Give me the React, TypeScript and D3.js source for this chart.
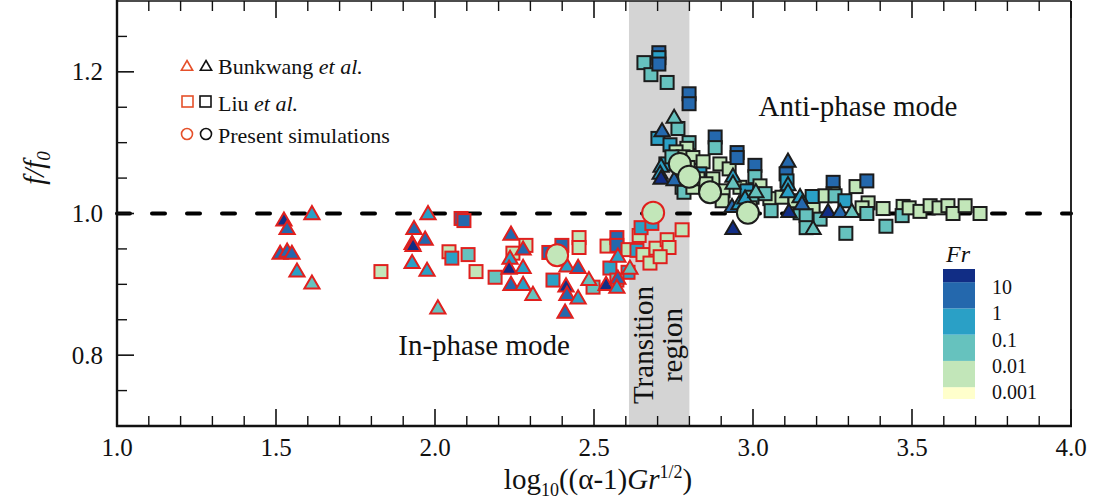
import React from 'react';
import * as d3 from 'd3';

// ---- Data ----
// Each point: [log10((α-1)Gr^1/2), f/f0, Fr]
type P = [number, number, number];

const FR_BOUNDS = [0.001, 0.01, 0.1, 1, 10];
const FR_COLORS = ['#ffffcc', '#c2e6b9', '#66c2be', '#2aa0c6', '#2468ad', '#112d85'];
const FR_LABELS = ['10', '1', '0.1', '0.01', '0.001'];
const FR_LABEL_VALUES = [10, 1, 0.1, 0.01, 0.001];

const X_MAJOR = [1.0, 1.5, 2.0, 2.5, 3.0, 3.5, 4.0];
const Y_MAJOR = [0.8, 1.0, 1.2];

const TRANSITION = [2.61, 2.8];

const bunkwangInPhase: P[] = [
  [1.525, 0.992, 20], [1.535, 0.98, 3], [1.613, 1.001, 0.3], [1.513, 0.945, 3],
  [1.535, 0.948, 3], [1.55, 0.945, 3], [1.566, 0.92, 0.3], [1.613, 0.903, 0.03],
  [1.978, 1.001, 0.3], [1.934, 0.98, 3], [1.928, 0.959, 3], [1.931, 0.956, 20],
  [1.969, 0.965, 3], [1.928, 0.932, 0.3], [1.975, 0.921, 0.3], [2.009, 0.868, 0.03],
  [2.239, 0.972, 3], [2.236, 0.938, 0.3], [2.233, 0.924, 20], [2.277, 0.951, 3],
  [2.277, 0.925, 0.3], [2.239, 0.901, 3], [2.277, 0.901, 0.3], [2.308, 0.887, 0.03],
  [2.415, 0.927, 0.3], [2.45, 0.925, 3], [2.412, 0.899, 20], [2.415, 0.887, 3],
  [2.45, 0.882, 0.3], [2.409, 0.862, 3], [2.484, 0.908, 0.03], [2.538, 0.901, 20],
  [2.575, 0.941, 0.3], [2.575, 0.91, 3], [2.613, 0.924, 0.03], [2.572, 0.897, 0.3],
];

const liuInPhase: P[] = [
  [1.83, 0.918, 0.003], [2.082, 0.993, 3], [2.091, 0.99, 3], [2.044, 0.946, 0.003],
  [2.053, 0.937, 0.3], [2.104, 0.942, 0.03], [2.129, 0.918, 0.003], [2.189, 0.91, 0.03],
  [2.245, 0.944, 0.003], [2.286, 0.955, 0.003], [2.358, 0.945, 3], [2.399, 0.955, 3],
  [2.371, 0.906, 0.3], [2.453, 0.966, 0.003], [2.453, 0.952, 0.003], [2.497, 0.896, 0.03],
  [2.541, 0.954, 0.003], [2.572, 0.966, 3], [2.572, 0.955, 3], [2.55, 0.923, 0.3],
  [2.607, 0.949, 0.003], [2.607, 0.917, 0.3], [2.572, 0.906, 0.03], [2.642, 0.969, 0.003],
  [2.648, 0.98, 0.3], [2.682, 0.986, 0.3], [2.635, 0.948, 0.3], [2.654, 0.942, 0.003],
  [2.695, 0.951, 0.003], [2.73, 0.963, 0.003], [2.736, 0.952, 0.003], [2.777, 0.977, 0.003],
  [2.676, 0.93, 0.003], [2.708, 0.939, 0.003],
];

const presentInPhase: P[] = [
  [2.384, 0.941, 0.003], [2.686, 1.001, 0.003],
];

const liuAntiPhase: P[] = [
  [2.657, 1.213, 0.03], [2.679, 1.196, 0.03], [2.704, 1.227, 3], [2.704, 1.22, 0.3],
  [2.704, 1.211, 3], [2.73, 1.185, 0.03], [2.799, 1.169, 3], [2.799, 1.155, 3],
  [2.764, 1.12, 0.03], [2.701, 1.106, 0.3], [2.739, 1.097, 0.3], [2.799, 1.1, 0.03],
  [2.792, 1.092, 0.003], [2.758, 1.087, 0.003], [2.78, 1.08, 0.003], [2.811, 1.079, 0.003],
  [2.726, 1.07, 0.3], [2.745, 1.08, 0.03], [2.777, 1.037, 0.03], [2.783, 1.03, 0.03],
  [2.811, 1.037, 0.003], [2.843, 1.073, 0.003], [2.833, 1.056, 0.3], [2.881, 1.108, 3],
  [2.881, 1.093, 0.03], [2.896, 1.07, 0.003], [2.925, 1.063, 0.003], [2.95, 1.086, 3],
  [2.95, 1.079, 3], [2.874, 1.049, 0.003], [2.906, 1.032, 0.003], [2.903, 1.018, 0.003],
  [2.959, 1.037, 0.003], [2.981, 1.032, 0.3], [2.997, 1.023, 0.03], [3.006, 1.068, 3],
  [3.006, 1.052, 0.03], [3.053, 1.021, 0.003], [3.057, 1.004, 0.03], [2.991, 1.008, 0.003],
  [3.104, 1.056, 3], [3.107, 1.046, 0.3], [3.091, 1.023, 0.003], [3.189, 1.008, 0.003],
  [3.148, 1.001, 0.03], [3.167, 0.997, 0.03], [3.211, 0.992, 0.03], [3.167, 0.98, 0.03],
  [3.252, 1.044, 3], [3.252, 1.028, 0.003], [3.226, 1.025, 0.003], [3.258, 1.025, 0.03],
  [3.289, 1.018, 0.3], [3.292, 0.972, 0.03], [3.324, 1.038, 0.003], [3.358, 1.046, 3],
  [3.362, 1.015, 0.003], [3.343, 1.008, 0.003], [3.358, 1.0, 0.03], [3.409, 1.007, 0.003],
  [3.418, 0.982, 0.03], [3.472, 1.01, 0.003], [3.469, 0.997, 0.03], [3.491, 1.008, 0.003],
  [3.525, 1.003, 0.003], [3.557, 1.011, 0.003], [3.585, 1.008, 0.003], [3.613, 1.011, 0.003],
  [3.629, 1.0, 0.003], [3.667, 1.011, 0.003], [3.714, 1.0, 0.003],
  [2.827, 1.049, 0.003], [2.852, 1.042, 0.003], [2.796, 1.065, 0.003], [3.022, 1.039, 0.003],
  [3.038, 1.028, 0.03], [3.132, 1.018, 0.003], [3.186, 1.024, 0.3],
];

const bunkwangAntiPhase: P[] = [
  [2.752, 1.137, 0.03], [2.714, 1.118, 3], [2.711, 1.068, 0.3], [2.708, 1.058, 0.3],
  [2.711, 1.051, 20], [2.752, 1.049, 3], [2.937, 1.054, 0.3], [2.937, 1.044, 0.03],
  [2.934, 1.011, 3], [2.956, 1.015, 0.3], [2.975, 1.023, 0.3], [3.009, 1.032, 0.03],
  [2.937, 0.98, 20], [3.11, 1.075, 3], [3.11, 1.042, 0.3], [3.11, 1.032, 0.3],
  [3.113, 1.004, 20], [3.148, 1.025, 0.3], [3.154, 1.015, 3], [3.236, 1.004, 20],
  [3.274, 1.004, 3], [3.311, 1.004, 0.03], [3.189, 0.98, 0.03],
];

const presentAntiPhase: P[] = [
  [2.77, 1.07, 0.003], [2.799, 1.052, 0.003], [2.865, 1.03, 0.003], [2.984, 1.001, 0.003],
];

// ---- Component ----
const FONT = "'Liberation Serif', 'Times New Roman', serif";
const RED = '#e0201e';
const DARK = '#1c1c1c';
const LEG_RED = '#e5502a';

export default function App() {
  const W = 1099, H = 502;
  const x = d3.scaleLinear().domain([1, 4]).range([117, 1071]);
  const y = d3.scaleLinear().domain([0.7, 1.3]).range([426, 1]);
  const color = d3.scaleThreshold<number, string>().domain(FR_BOUNDS).range(FR_COLORS);
  const tri = d3.symbol().type(d3.symbolTriangle).size(100)() as string;
  const triLeg = d3.symbol().type(d3.symbolTriangle).size(55)() as string;
  const sq = 13;

  const xMinor = d3.range(1.1, 4.0, 0.1).filter(v => Math.abs(v * 2 - Math.round(v * 2)) > 1e-6);
  const yMinor = d3.range(0.75, 1.3, 0.05).filter(v => Math.abs(v * 5 - Math.round(v * 5)) > 1e-6);

  const x0 = x(1), x1 = x(4), y0 = y(0.7), y1 = y(1.3);

  const squares = (data: P[], stroke: string, key: string) =>
    data.map((d, i) => (
      <rect key={key + i} x={x(d[0]) - sq / 2} y={y(d[1]) - sq / 2} width={sq} height={sq}
        fill={color(d[2])} stroke={stroke} strokeWidth={2} />
    ));
  const triangles = (data: P[], stroke: string, key: string) =>
    data.map((d, i) => (
      <path key={key + i} d={tri} transform={`translate(${x(d[0])},${y(d[1]) + 2})`}
        fill={color(d[2])} stroke={stroke} strokeWidth={2} strokeLinejoin="miter" />
    ));
  const circles = (data: P[], stroke: string, key: string) =>
    data.map((d, i) => (
      <circle key={key + i} cx={x(d[0])} cy={y(d[1])} r={11}
        fill={color(d[2])} stroke={stroke} strokeWidth={2} />
    ));

  // colorbar
  const cb = d3.scaleLinear().domain([-3.45, 1.5]).range([399, 269]);
  const cbEdges = [-3.45, -3, -2, -1, 0, 1, 1.5];

  return (
    <svg width={W} height={H} style={{ position: 'absolute', left: 0, top: 0, background: '#fff' }}
      fontFamily={FONT}>
      <rect x={0} y={0} width={W} height={H} fill="#fff" />
      {/* transition band */}
      <rect x={x(TRANSITION[0])} y={y1} width={x(TRANSITION[1]) - x(TRANSITION[0])} height={y0 - y1}
        fill="#d4d4d4" />
      <text transform={`translate(${x(2.655)},345) rotate(-90)`} textAnchor="middle" dominantBaseline="central"
        fontSize={29} fill="#111">Transition</text>
      <text transform={`translate(${x(2.745)},345) rotate(-90)`} textAnchor="middle" dominantBaseline="central"
        fontSize={29} fill="#111">region</text>

      {/* dashed f/f0 = 1 line */}
      <line x1={x0} x2={x1} y1={y(1)} y2={y(1)} stroke="#000" strokeWidth={4}
        strokeDasharray="13 22" strokeLinecap="round" />

      {/* ticks */}
      {X_MAJOR.map(v => (
        <g key={'xm' + v}>
          <line x1={x(v)} x2={x(v)} y1={y0} y2={y0 - 17} stroke="#111" strokeWidth={1.6} />
          <line x1={x(v)} x2={x(v)} y1={y1} y2={y1 + 17} stroke="#111" strokeWidth={1.6} />
          <text x={x(v)} y={y0 + 30} textAnchor="middle" fontSize={25} fill="#111">{v.toFixed(1)}</text>
        </g>
      ))}
      {xMinor.map(v => (
        <g key={'xn' + v}>
          <line x1={x(v)} x2={x(v)} y1={y0} y2={y0 - 10} stroke="#111" strokeWidth={1.4} />
          <line x1={x(v)} x2={x(v)} y1={y1} y2={y1 + 10} stroke="#111" strokeWidth={1.4} />
        </g>
      ))}
      {Y_MAJOR.map(v => (
        <g key={'ym' + v}>
          <line x1={x0} x2={x0 + 17} y1={y(v)} y2={y(v)} stroke="#111" strokeWidth={1.6} />
          <text x={x0 - 14} y={y(v)} textAnchor="end" dominantBaseline="central" fontSize={25} fill="#111">
            {v.toFixed(1)}
          </text>
        </g>
      ))}
      {yMinor.map(v => (
        <line key={'yn' + v} x1={x0} x2={x0 + 10} y1={y(v)} y2={y(v)} stroke="#111" strokeWidth={1.4} />
      ))}

      {/* frame */}
      <line x1={x0} x2={x1} y1={y1} y2={y1} stroke="#111" strokeWidth={1.6} />
      <line x1={x1} x2={x1} y1={y1} y2={y0} stroke="#111" strokeWidth={1.8} />
      <line x1={x0} x2={x0} y1={y1 - 1} y2={y0 + 1} stroke="#111" strokeWidth={2.4} />
      <line x1={x0 - 1} x2={x1 + 1} y1={y0} y2={y0} stroke="#111" strokeWidth={2.6} />

      {/* data */}
      {squares(liuInPhase, RED, 'li')}
      {triangles(bunkwangInPhase, RED, 'bi')}
      {squares(liuAntiPhase, DARK, 'la')}
      {triangles(bunkwangAntiPhase, DARK, 'ba')}
      {circles(presentInPhase, RED, 'pi')}
      {circles(presentAntiPhase, DARK, 'pa')}

      {/* annotations */}
      <text x={858} y={116} textAnchor="middle" fontSize={29} fill="#111">Anti-phase mode</text>
      <text x={484} y={355} textAnchor="middle" fontSize={29} fill="#111">In-phase mode</text>

      {/* legend */}
      <g fontSize={22} fill="#111">
        <path d={triLeg} transform="translate(187,67)" fill="none" stroke={LEG_RED} strokeWidth={1.6} />
        <path d={triLeg} transform="translate(206,67)" fill="none" stroke="#111" strokeWidth={1.6} />
        <text x={218} y={74}>Bunkwang <tspan fontStyle="italic">et al.</tspan></text>
        <rect x={182} y={96} width={11} height={11} fill="none" stroke={LEG_RED} strokeWidth={1.6} />
        <rect x={200} y={96} width={11} height={11} fill="none" stroke="#111" strokeWidth={1.6} />
        <text x={218} y={111}>Liu <tspan fontStyle="italic">et al.</tspan></text>
        <circle cx={187} cy={134} r={5.5} fill="none" stroke={LEG_RED} strokeWidth={1.6} />
        <circle cx={206} cy={134} r={5.5} fill="none" stroke="#111" strokeWidth={1.6} />
        <text x={218} y={143}>Present simulations</text>
      </g>

      {/* colour bar */}
      <text x={946} y={262} fontSize={24} fontStyle="italic" fill="#111">Fr</text>
      {FR_COLORS.map((c, i) => (
        <rect key={'cb' + i} x={943} width={32} y={cb(cbEdges[i + 1])}
          height={cb(cbEdges[i]) - cb(cbEdges[i + 1])} fill={c} />
      ))}
      {FR_LABELS.map((t, i) => (
        <text key={'cbl' + t} x={992} y={cb(Math.log10(FR_LABEL_VALUES[i])) + 12} fontSize={20} fill="#111">{t}</text>
      ))}

      {/* axis titles */}
      <text x={598} y={489} textAnchor="middle" fontSize={29} fill="#111">
        log<tspan dy={7} fontSize={18}>10</tspan><tspan dy={-7}>((α-1)</tspan><tspan fontStyle="italic">Gr</tspan>
        <tspan dy={-11} fontSize={18}>1/2</tspan><tspan dy={11}>)</tspan>
      </text>
      <text transform="translate(44,168) rotate(-90)" textAnchor="middle" fontSize={29} fontStyle="italic" fill="#111">
        f/f<tspan dy={6} fontSize={19}>0</tspan>
      </text>
    </svg>
  );
}
